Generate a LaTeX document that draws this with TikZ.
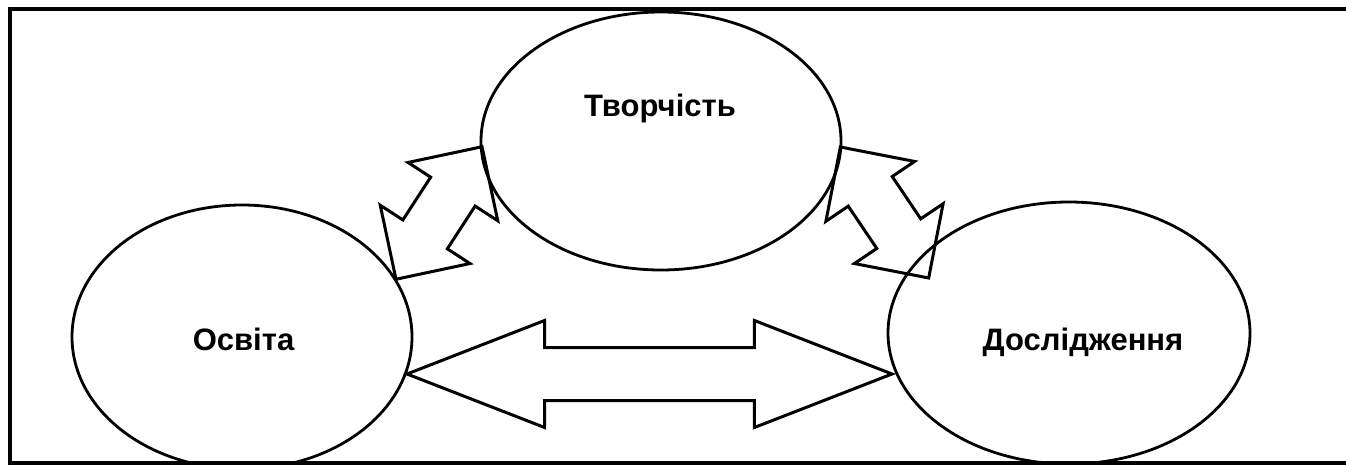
\documentclass[tikz,border=0pt]{standalone}
\usepackage{fontspec}
\setmainfont{Liberation Sans}
\usetikzlibrary{shapes.geometric,shapes.arrows}
\begin{document}
\begin{tikzpicture}[x=1pt, y=1pt,
    oval/.style={draw, ellipse, line width=2.8pt, inner sep=0pt},
    word/.style={font=\fontsize{31}{37}\selectfont\bfseries, anchor=base},
    dblarrow/.style={draw, double arrow, line width=3pt, inner sep=0pt, inner ysep=25pt,
        double arrow head extend=27pt, minimum width=104pt}]
    \useasboundingbox (0,0) rectangle (1346,464);
    \clip (0,0) rectangle (1346,464);
    \draw[line width=3.2pt] (10,455) rectangle (1360,1);

    \node[oval, minimum width=340pt, minimum height=264pt] (osvita) at (242,127){};
    \node[oval, minimum width=360pt, minimum height=258pt] (tvorch) at (661,323){};
    \node[oval, minimum width=362pt, minimum height=262pt] (doslid) at (1069,131){};

    \node[word] (tosvita) at (243.5,114){Освіта};
    \node[word] (ttvorch) at (660,347){Творчість};
    \node[word] (tdoslid) at (1083,114){Дослідження};

    \node[dblarrow, double arrow tip angle=42.5, minimum height=485pt] (aod) at (649.5,90){};
    \node[dblarrow, double arrow tip angle=90, minimum height=158pt, rotate=57] (aot) at (439,251){};
    \node[dblarrow, double arrow tip angle=90, minimum height=158pt, rotate=-56] (atd) at (884.5,251.5){};
\end{tikzpicture}
\end{document}
